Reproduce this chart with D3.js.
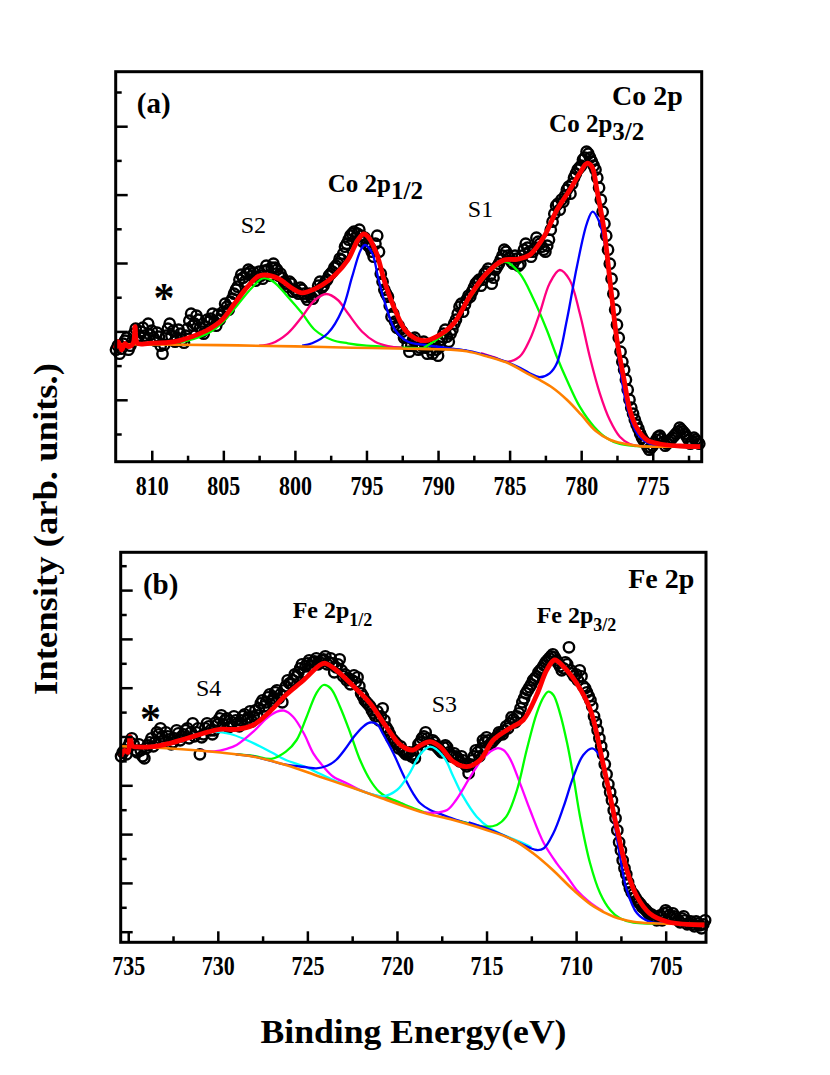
<!DOCTYPE html>
<html>
<head>
<meta charset="utf-8">
<script src="https://cdn.jsdelivr.net/npm/d3@7"></script>
<style>
    body { margin: 0; background: #fff; }
    text { font-family: "Liberation Serif", "Times New Roman", serif; fill: #000; }
</style>
</head>
<body>
<div id="chart"></div>
<script>
// ---------- panel (a) : Co 2p ----------
// measured points, 0.25 eV step starting at 812.5 eV (one line per eV)
var startA = 812.5, stepA = 0.25;
var countsA = [
    112, 108,
    118, 124, 116, 128,
    122, 130, 126, 138,
    131, 121, 125, 108,
    126, 138, 131, 124,
    128, 119, 133, 148,
    138, 142, 130, 135,
    140, 148, 136, 142,
    150, 155, 160, 168,
    175, 187, 180, 192,
    186, 181, 190, 183,
    196, 186, 198, 192,
    188, 180, 175, 178,
    172, 168, 172, 165,
    168, 163, 170, 180,
    176, 182, 188, 194,
    198, 202, 215, 222,
    228, 224, 232, 220,
    218, 214, 205, 226,
    188, 172, 165, 145,
    140, 136, 130, 125,
    110, 122, 118, 114,
    120, 108, 112, 118,
    106, 122, 132, 120,
    132, 142, 155, 150,
    162, 165, 174, 180,
    176, 188, 193, 178,
    192, 198, 206, 210,
    204, 198, 203, 198,
    212, 214, 205, 213,
    220, 215, 210, 222,
    240, 256, 252, 260,
    272, 268, 284, 292,
    296, 304, 308, 300,
    292, 274, 250, 226,
    198, 168, 137, 110,
    92, 72, 54, 42,
    33, 24, 19, 12,
    16, 22, 26, 20,
    18, 22, 26, 30,
    32, 28, 22, 20,
    22, 18
];
// the in-between points of the same scan (812.375 eV, 812.125 eV, ...)
var countsAmid = [
    116, 113,
    121, 112, 120, 133,
    126, 134, 122, 127,
    124, 129, 116, 117,
    133, 126, 120, 132,
    122, 126, 141, 136,
    146, 134, 128, 142,
    143, 140, 147, 146,
    158, 152, 163, 172,
    182, 184, 188, 190,
    189, 185, 186, 191,
    192, 194, 194, 186,
    184, 178, 180, 170,
    170, 174, 168, 162,
    165, 167, 176, 174,
    180, 186, 190, 196,
    203, 208, 218, 226,
    230, 228, 226, 224,
    216, 210, 218, 210,
    180, 168, 156, 148,
    134, 132, 124, 116,
    116, 124, 112, 116,
    114, 116, 108, 112,
    115, 128, 125, 128,
    138, 148, 158, 157,
    166, 170, 178, 182,
    182, 190, 186, 184,
    195, 202, 212, 206,
    200, 206, 196, 206,
    218, 210, 210, 224,
    218, 212, 216, 232,
    248, 258, 262, 266,
    275, 278, 288, 294,
    302, 310, 304, 296,
    284, 262, 238, 212,
    183, 152, 124, 100,
    82, 62, 48, 37,
    28, 21, 15, 14,
    19, 25, 23, 16,
    20, 24, 28, 34,
    30, 25, 18, 24,
    20
];
var fitA = [[812.55,113.4],[812.34,120],[812.1,111.7],[811.87,118.4],[811.64,115],[811.3,118.4],[811.17,135],[810.99,118.4],
    [810.2,118.4],[808.4,120],[807.2,125],[806.1,131.7],[805.1,141.7],[804.2,158.4],[803.3,175],[802.6,185],[802.1,186.7],
    [801.2,183.4],[800.2,173.4],[799.6,169],[799.1,170],[798.1,176.7],[797.2,186.7],[796.3,201.7],[795.6,221.7],[795.2,227.7],
    [794.9,225],[794.3,208.4],[793.7,178.4],[793,151.7],[792.3,131.7],[791.6,123.4],[790.9,121],[790.1,125],[788.9,138.4],
    [787.8,165],[786.6,188.4],[785.4,201.7],[784.5,202.4],[783.6,206.7],[782.6,225],[781.7,251.7],[780.8,271.7],[780.1,288.4],
    [779.6,298.4],[779.25,295],[778.9,271.7],[778.4,231.7],[777.97,178.4],[777.5,121.7],[777,81.7],[776.6,51.7],[776.1,33.4],
    [775.4,21.7],[774.5,17.7],[773.1,15.7],[771.6,15]];
var bgA = [[812.5,117.5],[808,117],[804,116.3],[800,115.3],[796,114],[792,113],[790,112.5],[788,110.5],[786.5,105],[785,98],
    [784,90],[783,82.5],[782,74],[781,62],[780,47],[779,31],[778,22],[777,18],[776,15.7],[775,15],[773,15],[771.6,15]];
var s2A = [[811,117.5],[809,118],[807.5,121],[806,129],[805,140],[804,157],[803,174],[802.2,183.5],[801.5,180],[800.5,165],
    [799.5,148.4],[798.6,131.7],[797.4,121.7],[796.3,118.4],[795,116],[793.9,115.2],[792,113.8],[790.5,113]];
var sat12A = [[802.5,116],[801.6,118.4],[800.5,128.4],[799.5,145],[798.6,161.7],[797.8,167.7],[797,161.7],[796.3,148.4],
    [795.3,130],[794.4,120],[793.5,115.7],[792.5,114]];
var main12A = [[799.5,116],[798.8,118.4],[797.7,128.4],[796.7,151.7],[796,185],[795.4,211.7],[795.1,216.7],[794.6,208.4],
    [794.2,185],[793.7,158.4],[793,131.7],[792.1,120],[790.9,116.7],[789.5,114],[788,111]];
var s1A = [[791,114],[790,123],[789,136],[787.8,163],[786.6,187],[785.8,197],[785.3,200],[784.3,188.4],[783.3,161.7],
    [782.4,131.7],[781.7,105],[781,81.7],[780.1,55],[779.1,35],[778.2,23.4],[777.3,17.7],[776.1,15.7],[775,15]];
var sat32A = [[787,108.5],[786,104],[785.2,100],[784.3,105],[783.6,121.7],[782.9,148.4],[782.2,178.4],[781.5,191.7],
    [780.8,181.7],[780.1,148.4],[779.4,105],[778.7,68.4],[778,41.7],[777.3,25],[776.6,17.7],[775.5,15.2]];
var main32A = [[790,113],[788,111],[786,103.5],[784.5,95.5],[783.6,88.5],[782.9,84.5],[782.2,88.4],[781.7,98.4],[781,141.7],
    [780.3,195],[779.6,238.4],[779.2,250],[778.7,238.4],[778.2,205],[777.7,148.4],[777.3,95],[776.8,55],[776.1,28.4],
    [775.2,17.7],[774,15.3]];
var xMajorA = [810, 805, 800, 795, 790, 785, 780, 775];
var xMinorA = [807.5, 802.5, 797.5, 792.5, 787.5, 782.5, 777.5, 772.5];
var yLongA = [61.9, 130.3, 198.7, 267.1, 335.5];
var yShortA = [27.7, 96.1, 164.5, 232.9, 301.3, 369.7];

// ---------- panel (b) : Fe 2p ----------
// measured points, 0.2 eV step starting at 735.4 eV
var startB = 735.4, stepB = 0.2;
var countsB = [
    186, 192, 196,
    204, 192, 198, 186, 194,
    200, 196, 210, 214, 202,
    206, 198, 204, 209, 206,
    212, 204, 219, 210, 188,
    208, 219, 212, 212, 218,
    227, 222, 215, 220, 222,
    216, 226, 222, 231, 226,
    227, 239, 236, 245, 241,
    250, 244, 240, 256, 259,
    262, 266, 274, 270, 279,
    276, 281, 278, 282, 286,
    280, 279, 275, 283, 266,
    262, 258, 267, 265, 249,
    242, 238, 232, 226, 222,
    234, 215, 208, 202, 198,
    196, 190, 189, 186, 184,
    198, 204, 210, 199, 202,
    196, 192, 195, 195, 186,
    189, 184, 186, 178, 169,
    182, 192, 186, 202, 205,
    198, 202, 206, 209, 212,
    214, 225, 220, 229, 240,
    249, 255, 262, 266, 272,
    277, 282, 286, 285, 279,
    272, 280, 295, 269, 268,
    272, 256, 250, 242, 226,
    212, 196, 178, 158, 142,
    124, 100, 82, 68, 54,
    48, 42, 38, 34, 30,
    28, 24, 26, 22, 32,
    27, 29, 24, 20, 26,
    18, 21, 16, 19, 14,
    22
];
// in-between points (735.3 eV, 735.1 eV, ...)
var countsBmid = [
    190, 188,
    200, 198, 190, 192, 184,
    197, 204, 200, 208, 206,
    210, 203, 200, 212, 202,
    208, 214, 210, 206, 214,
    205, 214, 216, 208, 220,
    224, 218, 224, 216, 226,
    219, 222, 228, 225, 221,
    232, 234, 242, 240, 248,
    244, 252, 248, 252, 262,
    258, 268, 270, 278, 276,
    282, 280, 284, 280, 283,
    278, 284, 270, 278, 272,
    268, 264, 262, 260, 256,
    246, 240, 236, 229, 231,
    226, 222, 212, 204, 200,
    194, 192, 188, 190, 188,
    192, 200, 206, 204, 198,
    200, 194, 190, 197, 190,
    186, 186, 181, 182, 176,
    178, 186, 190, 194, 200,
    202, 200, 204, 210, 208,
    216, 219, 223, 226, 234,
    244, 252, 258, 264, 270,
    274, 280, 284, 288, 282,
    276, 274, 278, 272, 266,
    262, 266, 254, 246, 236,
    220, 204, 188, 168, 150,
    132, 112, 92, 74, 60,
    50, 45, 40, 35, 32,
    28, 26, 22, 27, 29,
    30, 25, 26, 22, 24,
    22, 19, 18, 21, 17,
    18
];
var fitB = [[735.42,186],[735.2,192],[735,190],[734.9,206],[734.75,196],[734.5,195.5],[733.6,195.6],[732.67,199],[731.7,204],
    [730.8,209],[729.9,213],[728.95,213],[728.02,217.3],[727.1,230.6],[726.2,247.3],[725.2,262.3],[724.3,277.3],[724,279],
    [723.4,272.3],[722.4,255.6],[721.5,239],[720.6,215.6],[719.8,197.3],[719.1,192.3],[718.7,197],[718.15,200.6],[717.6,195.6],
    [716.85,180.6],[716.1,175.6],[715.36,182.3],[714.62,202.3],[713.7,214],[712.95,222.3],[712.2,247.3],[711.64,272.3],
    [711.2,282.3],[710.7,275.6],[709.97,259],[709.2,232.3],[708.5,179],[707.7,112.3],[707.17,72.3],[706.6,45.6],[705.9,29],
    [704.9,20.6],[702.75,17.3]];
var bgB = [[735.4,196],[734,195],[732,193],[730,190],[728,185.6],[726.2,177.3],[724.3,165.6],[722.4,154],[721,145],[718.7,130.6],
    [716.85,122.3],[715,112.3],[713.5,102.3],[712.4,89],[711.3,72.3],[710.15,52.3],[709,35.6],[707.9,25.6],[706.8,20.6],
    [705.7,19],[702.75,18.3]];
var s4B = [[734.5,196],[733.6,196.5],[732.67,199],[731.7,204],[730.8,208.5],[730.2,210.5],[729.3,208.3],[728.4,202.3],
    [727.6,195.6],[726.9,189],[726.2,182.3],[725.2,176],[724.3,168.5],[723.4,161],[722.4,154.5],[721.5,148.5],[720.8,145.3]];
var sat12B = [[731,191.7],[730.2,191],[729.5,193.5],[728.95,197.3],[728.02,210.6],[727.27,224],[726.7,230.6],[726.3,231.6],
    [725.8,225.6],[725.2,209],[724.67,189],[724.1,175.6],[723.55,165.6],[722.8,159],[722.06,152.3],[721.3,147.3],[720.6,144],
    [719.6,138]];
var main12B = [[729,188.2],[728,186.5],[727,183.5],[726.2,190.6],[725.6,202.3],[725.04,225.6],[724.5,249],[724.1,257.3],
    [723.7,254],[723.18,235.6],[722.6,209],[722.06,182.3],[721.5,162.3],[721,150.6],[720.6,145.6],[720,141],[719.2,135],
    [718.3,129]];
var sub12B = [[729,188],[728,185.8],[726.2,177.6],[725,175],[724.5,174],[723.9,176.5],[723.4,182.3],[722.9,193],[722.4,205.6],
    [721.9,215.5],[721.5,219.8],[721.1,218],[720.8,209],[720.2,189],[719.6,165.6],[719.1,149],[718.7,139],[718.15,132.3],
    [717.6,128.5],[716.85,123.5],[716,119]];
var s3B = [[722.4,154.3],[721.5,148.5],[720.8,146],[720,152.3],[719.3,169],[718.7,188],[718.15,195.6],[717.4,185.6],
    [716.85,165.6],[716.3,145.6],[715.55,125.6],[714.8,114],[714.06,107.3],[713.13,100.6],[712.5,95]];
var sat32B = [[718.5,129.8],[717.97,129.5],[717.2,132.3],[716.7,142.3],[715.9,165.6],[715.2,184],[714.43,194],[714.06,192.3],
    [713.7,184],[713.13,159],[712.57,132.3],[711.8,99],[711.08,79],[710.5,65.6],[709.97,52.3],[709.3,41],[708.5,31]];
var main32B = [[716.5,121],[715,115.6],[714.43,117.3],[713.9,125.6],[713.3,152.3],[712.76,192.3],[712.2,229],[711.8,245.6],
    [711.55,250.6],[711.27,247.3],[710.9,229],[710.5,199],[710.15,165.6],[709.78,125.6],[709.22,79],[708.66,49],[708.1,32.3],
    [707.55,24],[706.8,19.6],[705.5,19]];
var sub32B = [[716,120],[715,114],[714.06,107],[713.13,99],[712.2,92.3],[711.8,94],[711.27,109],[710.7,135.6],[710.15,165.6],
    [709.6,187.3],[709.1,194],[708.66,185.6],[708.29,162.3],[707.92,125.6],[707.55,85.6],[707.17,52.3],[706.6,29],[705.9,20.6],
    [705,19]];
var xMajorB = [735, 730, 725, 720, 715, 710, 705];
var xMinorB = [732.5, 727.5, 722.5, 717.5, 712.5, 707.5];
var yLongB = [10.6, 59.4, 108.2, 157.0, 205.8, 254.6, 303.4, 352.2];
var yShortB = [35.0, 83.8, 132.6, 181.4, 230.2, 279.0, 327.8, 376.6];

var svg = d3.select("#chart").append("svg")
        .attr("width", 830)
        .attr("height", 1075);

function drawPanel(p) {
    // set the ranges
    var x = d3.scaleLinear().domain(p.xDomain).range([p.left, p.right]);
    var y = d3.scaleLinear().domain([0, 390]).range([p.bottom, p.top]);
    var g = svg.append("g");

    // the measured points (both halves of the scan)
    p.scans.forEach(function(s) {
        g.append("g").selectAll("circle")
                .data(s.counts)
                .enter().append("circle")
                .attr("cx", function(d, i) { return x(s.start - p.step * i); })
                .attr("cy", function(d) { return y(d); })
                .attr("r", 5.2)
                .attr("fill", "none")
                .attr("stroke", "#000")
                .attr("stroke-width", 2.4);
    });

    var line = d3.line()
            .x(function(d) { return x(d[0]); })
            .y(function(d) { return y(d[1]); })
            .curve(d3.curveCatmullRom.alpha(0.5));

    // fitted components and background
    p.components.forEach(function(c) {
        g.append("path")
                .datum(c.pts)
                .attr("fill", "none")
                .attr("stroke", c.color)
                .attr("stroke-width", c.width || 2.3)
                .attr("d", line);
    });

    // envelope
    g.append("path")
            .datum(p.fit)
            .attr("fill", "none")
            .attr("stroke", "#ff0000")
            .attr("stroke-width", 4.8)
            .attr("stroke-linejoin", "round")
            .attr("d", line);

    // X axis, ticks pointing inside
    var xAxis = g.append("g")
            .attr("transform", "translate(0," + p.bottom + ")")
            .call(d3.axisBottom(x).tickValues(p.xMajor).tickSize(-11).tickPadding(14).tickFormat(d3.format("d")));
    xAxis.attr("font-family", null).attr("font-size", null);
    xAxis.select(".domain").remove();
    xAxis.selectAll("line").attr("stroke", "#000").attr("stroke-width", 2.5);
    xAxis.selectAll("text")
            .attr("fill", "#000")
            .style("font-size", "27px")
            .style("font-weight", "bold")
            .attr("textLength", 33)
            .attr("lengthAdjust", "spacingAndGlyphs");

    var xMinor = g.append("g")
            .attr("transform", "translate(0," + p.bottom + ")")
            .call(d3.axisBottom(x).tickValues(p.xMinor).tickSize(-6).tickFormat(""));
    xMinor.select(".domain").remove();
    xMinor.selectAll("line").attr("stroke", "#000").attr("stroke-width", 2.5);

    // Y axis, no labels
    [[p.yLong, -12], [p.yShort, -6]].forEach(function(t) {
        var ya = g.append("g")
                .attr("transform", "translate(" + p.left + ",0)")
                .call(d3.axisLeft(y).tickValues(t[0]).tickSize(t[1]).tickFormat(""));
        ya.select(".domain").remove();
        ya.selectAll("line").attr("stroke", "#000").attr("stroke-width", 2.5);
    });

    // frame
    g.append("rect")
            .attr("x", p.left)
            .attr("y", p.top)
            .attr("width", p.right - p.left)
            .attr("height", p.bottom - p.top)
            .attr("fill", "none")
            .attr("stroke", "#000")
            .attr("stroke-width", 3);

    // annotations
    p.labels.forEach(function(l) {
        var t = g.append("text")
                .attr("x", x(l.e))
                .attr("y", y(l.h))
                .attr("text-anchor", l.anchor || "start")
                .style("font-size", l.size + "px")
                .style("font-weight", l.bold ? "bold" : "normal")
                .text(l.text);
        if (l.sub) {
            t.append("tspan")
                    .attr("dy", l.subDy)
                    .style("font-size", l.subSize + "px")
                    .text(l.sub);
        }
    });
}

drawPanel({
    left: 115.7, right: 701.7, top: 71.7, bottom: 461.7,
    xDomain: [812.52, 771.58],
    step: stepA,
    scans: [{start: startA, counts: countsA}, {start: startA - stepA / 2, counts: countsAmid}],
    fit: fitA,
    xMajor: xMajorA, xMinor: xMinorA, yLong: yLongA, yShort: yShortA,
    components: [
        {pts: s2A, color: "#00ff00"},
        {pts: sat12A, color: "#ff0080"},
        {pts: main12A, color: "#0000ff"},
        {pts: s1A, color: "#00ff00"},
        {pts: sat32A, color: "#ff0080"},
        {pts: main32A, color: "#0000ff"},
        {pts: bgA, color: "#ff8000", width: 2.6}
    ],
    labels: [
        {text: "(a)", e: 811.05, h: 348.7, size: 29, bold: true},
        {text: "Co 2p", e: 772.9, h: 356.7, size: 28, bold: true, anchor: "end"},
        {text: "Co 2p", sub: "3/2", e: 782.24, h: 330, size: 25, subSize: 25, subDy: 8, bold: true},
        {text: "Co 2p", sub: "1/2", e: 797.7, h: 270, size: 25, subSize: 25, subDy: 7, bold: true},
        {text: "S2", e: 803.79, h: 228.4, size: 24},
        {text: "S1", e: 787.92, h: 245, size: 24},
        {text: "*", e: 809.14, h: 150, size: 42, bold: true, anchor: "middle"}
    ]
});

drawPanel({
    left: 120.7, right: 706, top: 552.3, bottom: 942.3,
    xDomain: [735.42, 702.75],
    step: stepB,
    scans: [{start: startB, counts: countsB}, {start: startB - stepB / 2, counts: countsBmid}],
    fit: fitB,
    xMajor: xMajorB, xMinor: xMinorB, yLong: yLongB, yShort: yShortB,
    components: [
        {pts: s4B, color: "#00ffff"},
        {pts: sat12B, color: "#ff00ff"},
        {pts: main12B, color: "#00ff00"},
        {pts: sub12B, color: "#0000ff"},
        {pts: s3B, color: "#00ffff"},
        {pts: sat32B, color: "#ff00ff"},
        {pts: main32B, color: "#00ff00"},
        {pts: sub32B, color: "#0000ff"},
        {pts: bgB, color: "#ff8000", width: 2.6}
    ],
    labels: [
        {text: "(b)", e: 734.18, h: 348.3, size: 29, bold: true},
        {text: "Fe 2p", e: 703.4, h: 354.3, size: 28, bold: true, anchor: "end"},
        {text: "Fe 2p", sub: "1/2", e: 725.82, h: 324, size: 24, subSize: 18, subDy: 8, bold: true},
        {text: "Fe 2p", sub: "3/2", e: 712.2, h: 319, size: 24, subSize: 18, subDy: 8, bold: true},
        {text: "S4", e: 731.22, h: 246.3, size: 24},
        {text: "S3", e: 718.06, h: 230.6, size: 24},
        {text: "*", e: 733.76, h: 209.7, size: 42, bold: true, anchor: "middle"}
    ]
});

// axis titles
svg.append("text")
        .attr("transform", "translate(57,529) rotate(-90)")
        .attr("text-anchor", "middle")
        .style("font-size", "33px")
        .style("font-weight", "bold")
        .attr("textLength", 332)
        .attr("lengthAdjust", "spacingAndGlyphs")
        .text("Intensity (arb. units.)");

svg.append("text")
        .attr("x", 413.5)
        .attr("y", 1043)
        .attr("text-anchor", "middle")
        .style("font-size", "33px")
        .style("font-weight", "bold")
        .attr("textLength", 306)
        .attr("lengthAdjust", "spacingAndGlyphs")
        .text("Binding Energy(eV)");
</script>
</body>
</html>
